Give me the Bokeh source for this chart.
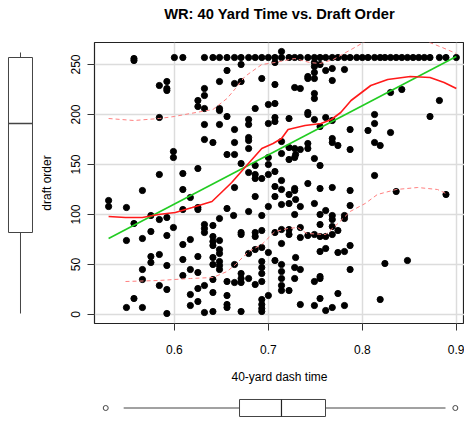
from bokeh.plotting import figure
from bokeh.models import Range1d, FixedTicker, Title
from bokeh.layouts import column, row
from bokeh.embed import file_html
from bokeh.resources import INLINE

# ---------------- data ----------------
# undrafted / last picks row
top_time = [0.600, 0.609, 0.632, 0.641, 0.648, 0.656, 0.664, 0.671, 0.679, 0.686,
            0.693, 0.700, 0.707, 0.714, 0.722, 0.728, 0.734, 0.742, 0.749, 0.755,
            0.761, 0.768, 0.774, 0.781, 0.787, 0.794, 0.800, 0.806, 0.813, 0.819,
            0.824, 0.830, 0.836, 0.842, 0.848, 0.854, 0.860, 0.866, 0.872, 0.882,
            0.889, 0.900]
top_pick = [257, 257, 257, 257, 257, 257, 257, 257, 257, 257,
            257, 257, 257, 257, 257, 257, 257, 257, 257, 257,
            257, 257, 257, 257, 257, 257, 257, 257, 257, 257,
            257, 257, 257, 257, 257, 257, 257, 257, 257, 257,
            257, 257]

fast_time = [0.557, 0.557, 0.584, 0.584, 0.584, 0.592, 0.592, 0.592, 0.599, 0.599,
             0.566, 0.530, 0.530, 0.549, 0.575, 0.557, 0.584, 0.592, 0.575, 0.549,
             0.566, 0.592, 0.599, 0.584, 0.575, 0.575, 0.592, 0.566, 0.566, 0.584,
             0.592, 0.557, 0.549, 0.566, 0.592]
fast_pick = [254, 256, 229, 197, 140, 233, 226, 224, 163, 157,
             124, 114, 108, 107, 99, 91, 95, 97, 83, 74,
             76, 79, 87, 60, 58, 52, 49, 45, 35, 29,
             25, 16, 7, 7, 1]

mid1_time = [0.656, 0.648, 0.664, 0.632, 0.632, 0.625, 0.625, 0.632, 0.648, 0.648,
             0.656, 0.632, 0.648, 0.664, 0.632, 0.641, 0.664, 0.656, 0.664, 0.625,
             0.609, 0.609, 0.617, 0.664, 0.609, 0.625, 0.625, 0.656, 0.648, 0.632,
             0.632, 0.632, 0.641, 0.609, 0.617, 0.641, 0.641, 0.641, 0.648, 0.648,
             0.648, 0.609, 0.625, 0.641, 0.648, 0.648, 0.648, 0.641, 0.664, 0.617,
             0.625, 0.609, 0.641, 0.656, 0.664, 0.632, 0.625, 0.617, 0.625, 0.641,
             0.656, 0.656, 0.656, 0.617, 0.632, 0.641]
mid1_pick = [244, 233, 231, 226, 219, 214, 208, 206, 206, 204,
             198, 190, 190, 185, 175, 172, 172, 160, 160, 146,
             141, 125, 117, 127, 105, 107, 105, 106, 96, 90,
             86, 82, 89, 70, 75, 78, 73, 69, 74, 65,
             61, 55, 58, 57, 53, 49, 45, 50, 50, 45,
             42, 39, 35, 33, 32, 29, 26, 20, 13, 22,
             19, 10, 7, 9, 2, 3]

mid2_time = [0.714, 0.671, 0.707, 0.693, 0.671, 0.707, 0.728, 0.700, 0.707, 0.686,
             0.679, 0.679, 0.707, 0.707, 0.722, 0.700, 0.679, 0.679, 0.714, 0.679,
             0.722, 0.728, 0.714, 0.722, 0.700, 0.671, 0.728, 0.700, 0.679, 0.686,
             0.686, 0.686, 0.693, 0.700, 0.707, 0.707, 0.714, 0.714, 0.728, 0.728,
             0.707, 0.722, 0.686, 0.700, 0.714, 0.722, 0.728, 0.663, 0.679, 0.693,
             0.671, 0.671, 0.686, 0.686, 0.693, 0.707, 0.714, 0.722, 0.722, 0.714,
             0.679, 0.686, 0.693, 0.700, 0.707, 0.693, 0.693, 0.693, 0.693, 0.714,
             0.714, 0.714, 0.714, 0.714, 0.722, 0.728, 0.728, 0.671, 0.671, 0.671,
             0.679, 0.686, 0.700, 0.693, 0.693, 0.693, 0.693, 0.671]
mid2_pick = [263, 250, 252, 236, 233, 230, 227, 210, 211, 206,
             195, 190, 197, 193, 196, 191, 177, 174, 173, 166,
             167, 166, 161, 155, 157, 151, 157, 150, 142, 149,
             140, 136, 136, 140, 143, 128, 134, 125, 126, 124,
             118, 120, 118, 108, 110, 111, 100, 99, 103, 99,
             82, 80, 82, 78, 84, 82, 85, 85, 80, 71,
             61, 65, 67, 62, 54, 53, 47, 41, 33, 50,
             43, 36, 29, 24, 24, 47, 36, 41, 36, 32,
             36, 30, 19, 15, 10, 6, 3, 3]

slow1_time = [0.749, 0.749, 0.755, 0.761, 0.768, 0.781, 0.749, 0.742, 0.742, 0.749,
              0.768, 0.734, 0.749, 0.749, 0.742, 0.742, 0.749, 0.761, 0.768, 0.755,
              0.787, 0.768, 0.768, 0.774, 0.787, 0.742, 0.729, 0.734, 0.742, 0.749,
              0.755, 0.742, 0.755, 0.768, 0.787, 0.729, 0.734, 0.749, 0.787, 0.755,
              0.761, 0.768, 0.768, 0.781, 0.781, 0.755, 0.768, 0.734, 0.734, 0.742,
              0.749, 0.755, 0.761, 0.768, 0.774, 0.787, 0.755, 0.761, 0.774, 0.781,
              0.787, 0.729, 0.734, 0.749, 0.755, 0.755, 0.774, 0.734, 0.749, 0.755,
              0.761, 0.768, 0.781]
slow1_pick = [252, 248, 250, 244, 246, 245, 242, 238, 236, 236,
              234, 226, 221, 216, 202, 200, 195, 197, 194, 188,
              185, 176, 172, 169, 165, 171, 160, 165, 166, 156,
              149, 131, 126, 127, 124, 115, 108, 111, 109, 100,
              104, 99, 95, 99, 96, 90, 88, 87, 77, 79,
              80, 78, 78, 80, 84, 69, 63, 66, 62, 63,
              45, 57, 45, 33, 38, 36, 21, 10, 9, 16,
              4, 7, 9]

slow2_time = [0.830, 0.842, 0.882, 0.813, 0.813, 0.806, 0.830, 0.872, 0.813, 0.819,
              0.813, 0.836, 0.889, 0.824, 0.848, 0.819]
slow2_pick = [222, 225, 214, 200, 191, 184, 182, 198, 172, 169,
              139, 123, 120, 51, 54, 15]

dash_time = top_time + fast_time + mid1_time + mid2_time + slow1_time + slow2_time
draft_order = top_pick + fast_pick + mid1_pick + mid2_pick + slow1_pick + slow2_pick

# fitted lines
reg_x = [0.530, 0.900]
reg_y = [76, 258]
smooth_x = [0.530, 0.548, 0.566, 0.583, 0.601, 0.619, 0.640, 0.650, 0.661, 0.675,
            0.693, 0.705, 0.714, 0.721, 0.739, 0.756, 0.767, 0.777, 0.788, 0.809,
            0.827, 0.851, 0.872, 0.887, 0.900]
smooth_y = [98, 97, 97, 100, 102, 107, 113, 122, 132, 147,
            166, 171, 176, 185, 189, 191, 195, 202, 214, 229,
            235, 238, 237, 232, 226]
upper_x = [0.530, 0.557, 0.584, 0.600, 0.617, 0.641, 0.656, 0.665, 0.675, 0.693,
           0.707, 0.728, 0.744, 0.755, 0.769, 0.790, 0.803, 0.820, 0.835, 0.850,
           0.869, 0.885, 0.900]
upper_y = [196, 194, 196, 198, 201, 205, 216, 226, 238, 250,
           252, 256, 252, 251, 255, 266, 273, 280, 283, 281,
           273, 267, 261]
lower_x = [0.548, 0.583, 0.617, 0.641, 0.656, 0.665, 0.679, 0.693, 0.707, 0.721,
           0.731, 0.741, 0.761, 0.774, 0.787, 0.803, 0.816, 0.836, 0.859, 0.880,
           0.889]
lower_y = [33, 34, 36, 37, 43, 50, 63, 70, 83, 86,
           87, 81, 80, 91, 103, 111, 120, 125, 127, 125,
           121]

# marginal boxplot statistics
pick_box = [1, 82, 191, 257, 262]            # low, q1, median, q3, high
time_box = [0.548, 0.6706, 0.715, 0.7616, 0.8886]
time_outliers = [0.529, 0.899]

x_ticks = [0.6, 0.7, 0.8, 0.9]
y_ticks = [0, 50, 100, 150, 200, 250]
chart_title = "WR: 40 Yard Time vs. Draft Order"

# ---------------- layout ----------------
FONT = "Liberation Sans"
BOXCOL = "#444444"
H = 390
TOP = 42
BOT = 67

x_rng = Range1d(0.515, 0.9087)
y_rng = Range1d(-9, 272)

main = figure(width=428, height=H, x_range=x_rng, y_range=y_rng,
              output_backend="svg", toolbar_location=None,
              min_border_left=56, min_border_right=0,
              min_border_top=TOP, min_border_bottom=BOT)
# spacer between frame and title, then the title itself (further out)
main.add_layout(Title(text=" ", text_font=FONT, text_font_size="16px", standoff=0), "above")
main.add_layout(Title(text=chart_title, align="center", vertical_align="top",
                      text_font=FONT, text_font_size="14.7px", text_font_style="bold",
                      text_color="black", standoff=0), "above")

main.xaxis.ticker = FixedTicker(ticks=x_ticks)
main.yaxis.ticker = FixedTicker(ticks=y_ticks)
main.xaxis.axis_label = "40-yard dash time"
main.yaxis.axis_label = "draft order"
for ax in (main.xaxis, main.yaxis):
    ax.axis_label_text_font = FONT
    ax.axis_label_text_font_size = "12px"
    ax.axis_label_text_font_style = "normal"
    ax.axis_label_text_color = "black"
    ax.major_label_text_font = FONT
    ax.major_label_text_font_size = "12px"
    ax.major_label_text_color = "black"
    ax.major_tick_in = 0
    ax.major_tick_out = 7
    ax.major_tick_line_color = "#333333"
    ax.minor_tick_line_color = None
    ax.axis_line_color = None
main.xaxis.major_label_standoff = 14
main.xaxis.axis_label_standoff = 13
main.yaxis.major_label_orientation = "vertical"
main.yaxis.major_label_standoff = 8
main.yaxis.axis_label_standoff = 14

main.grid.grid_line_color = "#dcdcdc"
main.grid.grid_line_width = 1.5
main.outline_line_color = "#222222"
main.outline_line_width = 1.2
main.background_fill_color = "white"
main.border_fill_color = "white"

main.scatter(dash_time, draft_order, size=6.2, color="black")
main.line(upper_x, upper_y, line_color="#ff8080", line_width=1, line_dash="4 3")
main.line(lower_x, lower_y, line_color="#ff8080", line_width=1, line_dash="4 3")
main.line(reg_x, reg_y, line_color="#22cc22", line_width=1.6)
main.line(smooth_x, smooth_y, line_color="#ff1a1a", line_width=1.6)

# left marginal boxplot (draft order)
left = figure(width=36, height=H, x_range=Range1d(-0.8333, 0.6667), y_range=y_rng,
              output_backend="svg", toolbar_location=None,
              min_border_left=0, min_border_right=0,
              min_border_top=TOP, min_border_bottom=BOT)
left.axis.visible = False
left.grid.visible = False
left.outline_line_color = None
left.segment(x0=[0, 0], y0=[pick_box[0], pick_box[3]], x1=[0, 0], y1=[pick_box[1], pick_box[4]],
             line_color=BOXCOL, line_width=1)
left.vbar(x=[0], width=1, bottom=[pick_box[1]], top=[pick_box[3]],
          fill_color="white", line_color=BOXCOL, line_width=1)
left.segment(x0=[-0.5], y0=[pick_box[2]], x1=[0.5], y1=[pick_box[2]],
             line_color=BOXCOL, line_width=1.5)

# bottom marginal boxplot (40-yard dash)
bottom = figure(width=464, height=30, x_range=x_rng, y_range=Range1d(-0.735, 1.029),
                output_backend="svg", toolbar_location=None,
                min_border_left=92, min_border_right=0,
                min_border_top=0, min_border_bottom=0)
bottom.axis.visible = False
bottom.grid.visible = False
bottom.outline_line_color = None
bottom.segment(x0=[time_box[0], time_box[3]], y0=[0, 0], x1=[time_box[1], time_box[4]], y1=[0, 0],
               line_color=BOXCOL, line_width=1)
bottom.hbar(y=[0], height=1, left=[time_box[1]], right=[time_box[3]],
            fill_color="white", line_color=BOXCOL, line_width=1)
bottom.segment(x0=[time_box[2]], y0=[-0.5], x1=[time_box[2]], y1=[0.5],
               line_color="#222222", line_width=1.2)
bottom.scatter(time_outliers, [0] * len(time_outliers), marker="circle", size=5,
               fill_color=None, line_color=BOXCOL, line_width=1)

layout = column(row(left, main), bottom)
open("out.html", "w").write(file_html(layout, INLINE))
